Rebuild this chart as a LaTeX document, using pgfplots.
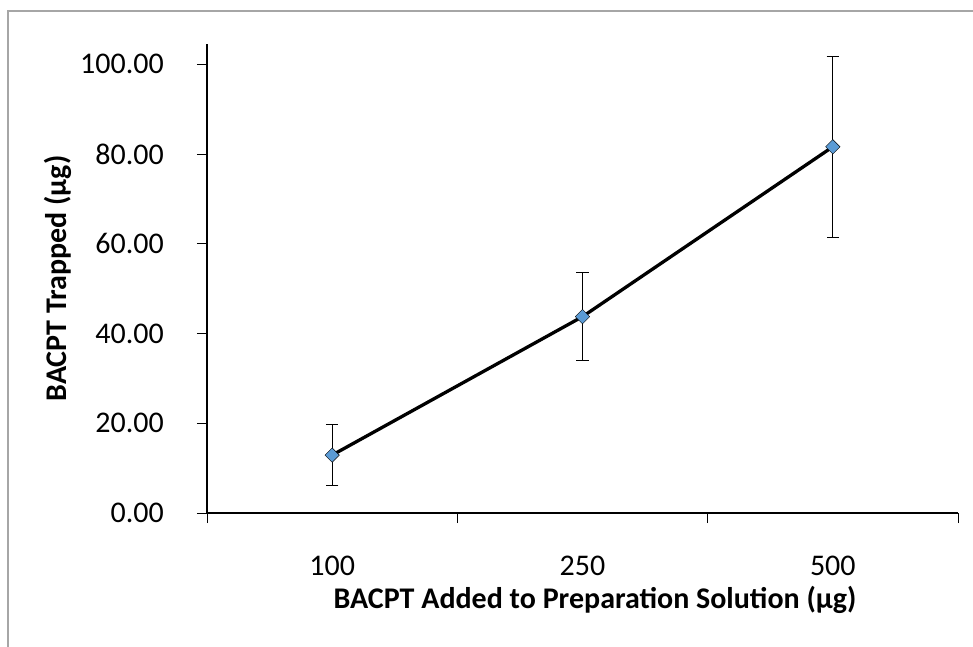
\documentclass[border=0pt]{standalone}
\usepackage{pgfplots}
\pgfplotsset{compat=1.18}
\usepackage{pgfplotstable}
\usepackage{fontspec}
\setmainfont{Carlito}

\definecolor{markblue}{RGB}{91,155,213}
\definecolor{framegray}{RGB}{166,166,166}

% BACPT added (category index), mean trapped, error
\pgfplotstableread{
x y err
0 12.9 6.8
1 43.75 9.85
2 81.6 20.2
}\trapped

\begin{document}
\begin{tikzpicture}
\useasboundingbox (-207bp,-134bp) rectangle (766bp,513bp);
\draw[framegray, line width=1.6bp] (-199bp,-134bp) -- (-199bp,502bp) -- (766bp,502bp);
\begin{axis}[
  at={(0bp,0bp)}, anchor=south west,
  scale only axis, width=751bp, height=469bp,
  xmin=-0.5, xmax=2.5, ymin=0, ymax=104.5,
  clip=false,
  axis lines*=left,
  axis line style={line width=1.8bp, black},
  xtick={0,1,2}, xticklabels={100,250,500},
  minor xtick={-0.5,0.5,1.5,2.5},
  ytick={0,20,40,60,80,100},
  tick align=outside,
  major tick length=10bp, minor tick length=10bp,
  major x tick style={draw=none},
  minor x tick style={black, line width=0.9bp},
  y tick style={black, line width=0.9bp},
  tick label style={font=\fontsize{30bp}{36bp}\selectfont, inner sep=0pt},
  yticklabel={\pgfmathprintnumber[fixed,fixed zerofill,precision=2,assume math mode=true]{\tick}},
  yticklabel style={anchor=east, xshift=-33bp},
  xticklabel style={anchor=base, yshift=-52bp},
  xlabel={BACPT Added to Preparation Solution (µg)},
  xlabel style={font=\bfseries\fontsize{30bp}{36bp}\selectfont, inner sep=0pt,
    at={(axis description cs:0.5166,-0.2026)}, anchor=base},
  ylabel={BACPT Trapped (µg)},
  ylabel style={font=\bfseries\fontsize{30bp}{36bp}\selectfont, inner sep=0pt,
    at={(axis description cs:-0.18642,0.5)}, anchor=base},
]
\addplot[draw=none, mark=none,
  error bars/.cd, y dir=both, y explicit,
  error bar style={black, line width=0.9bp},
  error mark options={rotate=90, mark size=6.3bp, line width=0.9bp, black}]
  table[x=x, y=y, y error=err] {\trapped};
\addplot[black, line width=3.3bp, mark=none] table[x=x, y=y] {\trapped};
\addplot[only marks, mark=square*, mark size=5.1bp,
  mark options={rotate=45, fill=markblue, draw=none}]
  table[x=x, y=y] {\trapped};
\end{axis}
\end{tikzpicture}
\end{document}
